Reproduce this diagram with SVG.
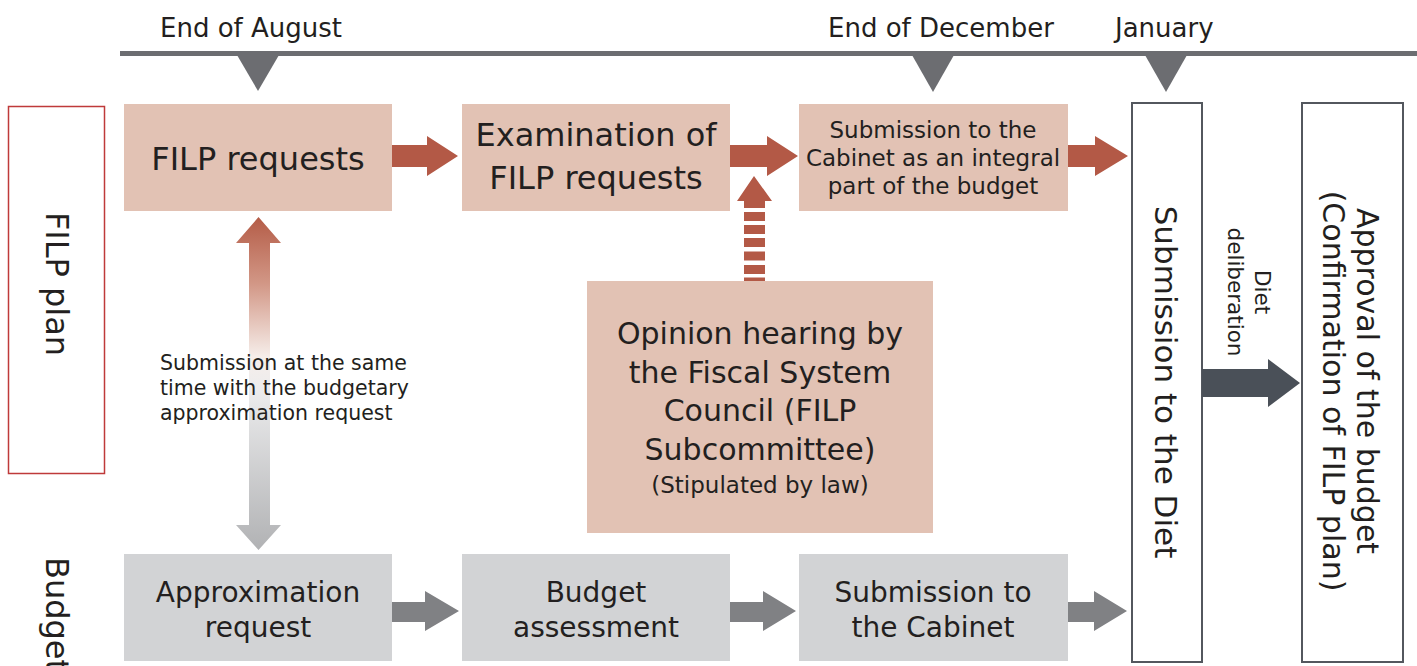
<svg xmlns="http://www.w3.org/2000/svg" width="1417" height="666" viewBox="0 0 1417 666">
<style>
  text { font-family: "DejaVu Sans", Verdana, sans-serif; fill: #231f20; }
  .rb { fill: #e2c2b4; }
  .gb { fill: #d2d3d5; }
  .ob { fill: #ffffff; stroke: #53575e; stroke-width: 2; }
  .ra { fill: #b35946; }
  .ga { fill: #808184; }
  .da { fill: #4a5058; }
  .tl { fill: #6c6d71; }
  .t32 { font-size: 32px; }
  .t31 { font-size: 31px; }
  .t30 { font-size: 30px; }
  .t28 { font-size: 28px; }
  .t26 { font-size: 26px; }
  .t23 { font-size: 23px; }
  .t21 { font-size: 20.5px; }
  .t22 { font-size: 21.5px; }
  .m { text-anchor: middle; }
</style>
<defs>
  <linearGradient id="dg" gradientUnits="userSpaceOnUse" x1="0" y1="217" x2="0" y2="550">
    <stop offset="0" stop-color="#b45c47"/>
    <stop offset="0.2" stop-color="#d29786"/>
    <stop offset="0.42" stop-color="#f6eeea"/>
    <stop offset="0.52" stop-color="#ececed"/>
    <stop offset="1" stop-color="#b1b2b4"/>
  </linearGradient>
</defs>

<g id="timeline">
  <rect class="tl" x="120" y="51" width="1297" height="5"/>
  <polygon class="tl" points="237,55 279,55 258,91"/>
  <polygon class="tl" points="912,55 954,55 933,92"/>
  <polygon class="tl" points="1145,55 1187,55 1166,92"/>
  <text class="t26" x="160" y="37">End of August</text>
  <text class="t26" x="828" y="37">End of December</text>
  <text class="t26" x="1115" y="37">January</text>
</g>

<g id="label-filp">
  <rect x="8.5" y="106.5" width="96" height="367" fill="#ffffff" stroke="#bf3a3a" stroke-width="1.5"/>
  <text class="t32 m" transform="translate(46,284) rotate(90)">FILP plan</text>
</g>
<g id="label-budget">
  <text class="t32" transform="translate(46,557) rotate(90)">Budget</text>
</g>

<g id="filp-requests">
  <rect class="rb" x="124" y="104" width="268" height="107"/>
  <text class="t32 m" x="258" y="170">FILP requests</text>
</g>
<g id="examination">
  <rect class="rb" x="462" y="104" width="268" height="107"/>
  <text class="t32 m" x="596" y="146">Examination of</text>
  <text class="t32 m" x="596" y="189">FILP requests</text>
</g>
<g id="cabinet-filp">
  <rect class="rb" x="799" y="104" width="269" height="107"/>
  <text class="t23 m" x="933" y="138">Submission to the</text>
  <text class="t23 m" x="933" y="166">Cabinet as an integral</text>
  <text class="t23 m" x="933" y="194">part of the budget</text>
</g>
<g id="opinion">
  <rect class="rb" x="587" y="281" width="346" height="252"/>
  <text class="t30 m" x="760" y="344">Opinion hearing by</text>
  <text class="t30 m" x="760" y="383">the Fiscal System</text>
  <text class="t30 m" x="760" y="421">Council (FILP</text>
  <text class="t30 m" x="760" y="460">Subcommittee)</text>
  <text class="t23 m" x="760" y="493">(Stipulated by law)</text>
</g>

<g id="approx">
  <rect class="gb" x="124" y="554" width="268" height="107"/>
  <text class="t28 m" x="258" y="602">Approximation</text>
  <text class="t28 m" x="258" y="637">request</text>
</g>
<g id="assessment">
  <rect class="gb" x="462" y="554" width="268" height="107"/>
  <text class="t28 m" x="596" y="602">Budget</text>
  <text class="t28 m" x="596" y="637">assessment</text>
</g>
<g id="cabinet-budget">
  <rect class="gb" x="799" y="554" width="269" height="107"/>
  <text class="t28 m" x="933" y="602">Submission to</text>
  <text class="t28 m" x="933" y="637">the Cabinet</text>
</g>

<g id="diet">
  <rect class="ob" x="1132" y="103" width="70" height="559"/>
  <text class="t31 m" transform="translate(1155,382) rotate(90)">Submission to the Diet</text>
</g>
<g id="approval">
  <rect class="ob" x="1302" y="103" width="101" height="559"/>
  <text class="t30 m" transform="translate(1357,381) rotate(90)">Approval of the budget</text>
  <text class="t30 m" transform="translate(1323,391) rotate(90)">(Confirmation of FILP plan)</text>
</g>

<g id="connectors">
  <polygon class="ra" points="392,145 427,145 427,136 458,156 427,176 427,167 392,167"/>
  <polygon class="ra" points="730,145 767,145 767,136 798,156 767,176 767,167 730,167"/>
  <polygon class="ra" points="1068,145 1095,145 1095,136 1128,156 1095,176 1095,167 1068,167"/>
  <polygon class="ga" points="392,602 425,602 425,591 459,611 425,631 425,622 392,622"/>
  <polygon class="ga" points="730,602 763,602 763,591 796,611 763,631 763,622 730,622"/>
  <polygon class="ga" points="1068,602 1094,602 1094,591 1127,611 1094,631 1094,622 1068,622"/>
  <polygon class="da" points="1202,369 1268,369 1268,359 1300,383 1268,407 1268,397 1202,397"/>
  <g id="dashed-up" class="ra">
    <polygon points="737,201 754,176 772,201 765,201 765,208 744,208 744,201"/>
    <rect x="744" y="212" width="21" height="9"/>
    <rect x="744" y="225" width="21" height="9"/>
    <rect x="744" y="238" width="21" height="9"/>
    <rect x="744" y="251.5" width="21" height="9"/>
    <rect x="744" y="265" width="21" height="9"/>
    <rect x="744" y="277.5" width="21" height="3.5"/>
  </g>
  <polygon fill="url(#dg)" points="258.5,217 281,243 270,243 270,525 281,525 258.5,550 236,525 249,525 249,243 236,243"/>
  <text class="t21" x="160" y="370">Submission at the same</text>
  <text class="t21" x="160" y="395">time with the budgetary</text>
  <text class="t21" x="160" y="420">approximation request</text>
  <text class="t22 m" transform="translate(1255,292) rotate(90)">Diet</text>
  <text class="t22 m" transform="translate(1228,292) rotate(90)">deliberation</text>
</g>
</svg>
